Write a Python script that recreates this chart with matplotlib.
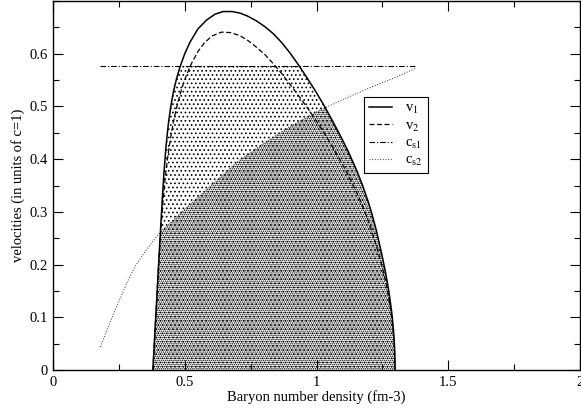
import numpy as np
import matplotlib
matplotlib.use("Agg")
import matplotlib.pyplot as plt
from matplotlib.ticker import MultipleLocator

plt.rcParams['font.family'] = ['Liberation Serif', 'DejaVu Serif']
plt.rcParams['mathtext.fontset'] = 'stix'
plt.rcParams['hatch.linewidth'] = 0.7

# v1 (solid)
v1_x = [0.379, 0.385, 0.391, 0.397, 0.403, 0.409, 0.415, 0.421, 0.429, 0.438,
        0.447, 0.457, 0.469, 0.482, 0.500, 0.520, 0.550, 0.583, 0.615, 0.646,
        0.680, 0.710, 0.740, 0.773, 0.805, 0.836, 0.870, 0.900, 0.930, 0.963,
        0.995, 1.026, 1.058, 1.089, 1.120, 1.153, 1.175, 1.197, 1.212, 1.228,
        1.245, 1.260, 1.270, 1.279, 1.286, 1.292, 1.296, 1.298, 1.2985]
v1_y = [0.000, 0.055, 0.110, 0.165, 0.220, 0.274, 0.326, 0.374, 0.425, 0.468,
        0.500, 0.528, 0.553, 0.575, 0.600, 0.622, 0.647, 0.664, 0.675, 0.680,
        0.680, 0.677, 0.671, 0.662, 0.651, 0.638, 0.620, 0.601, 0.580, 0.555,
        0.530, 0.504, 0.475, 0.446, 0.415, 0.378, 0.350, 0.318, 0.293, 0.263,
        0.226, 0.190, 0.163, 0.134, 0.107, 0.076, 0.045, 0.015, 0.000]

# v2 (dashed)
v2_x = [0.379, 0.385, 0.391, 0.397, 0.403, 0.410, 0.418, 0.427, 0.437, 0.448,
        0.460, 0.474, 0.490, 0.507, 0.527, 0.550, 0.575, 0.605, 0.640, 0.675,
        0.710, 0.740, 0.773, 0.805, 0.836, 0.862, 0.887, 0.913, 0.940, 0.970,
        1.000, 1.026, 1.058, 1.089, 1.120, 1.153, 1.175, 1.195, 1.216, 1.235,
        1.251, 1.263, 1.273, 1.282, 1.289, 1.294, 1.297, 1.298]
v2_y = [0.000, 0.055, 0.110, 0.165, 0.220, 0.272, 0.322, 0.370, 0.410, 0.446,
        0.478, 0.508, 0.536, 0.560, 0.583, 0.604, 0.621, 0.634, 0.641, 0.640,
        0.634, 0.625, 0.612, 0.598, 0.581, 0.566, 0.550, 0.533, 0.515, 0.494,
        0.472, 0.452, 0.426, 0.399, 0.370, 0.336, 0.311, 0.285, 0.254, 0.222,
        0.192, 0.166, 0.140, 0.112, 0.084, 0.056, 0.028, 0.000]

# cs1 (dash-dot)
cs1_x = [0.178, 1.374]
cs1_y = [0.577, 0.577]

# cs2 (dotted)
cs2_x = [0.180, 0.200, 0.220, 0.250, 0.280, 0.310, 0.350, 0.400, 0.500, 0.600,
         0.700, 0.800, 0.900, 1.000, 1.100, 1.200, 1.300, 1.374]
cs2_y = [0.044, 0.070, 0.095, 0.130, 0.165, 0.195, 0.225, 0.258, 0.305, 0.350,
         0.395, 0.430, 0.462, 0.490, 0.513, 0.535, 0.555, 0.572]

fig = plt.figure(figsize=(5.81, 4.12), dpi=100)
ax = fig.add_axes([53 / 581, 1 - 370 / 412, 527 / 581, 369 / 412])

# shaded regions
xg = np.linspace(v1_x[0], v1_x[-1], 800)
v1g = np.interp(xg, v1_x, v1_y)
cs2g = np.interp(xg, cs2_x, cs2_y)
ax.fill_between(xg, 0, np.minimum(v1g, cs1_y[0]), facecolor='none',
                edgecolor='black', hatch='....', linewidth=0)
ax.fill_between(xg, 0, np.minimum(v1g, cs2g), facecolor='none',
                edgecolor='black', hatch='........', linewidth=0)

ax.plot(v1_x, v1_y, color='black', lw=1.1, label=r'v$_1$')
ax.plot(v2_x, v2_y, color='black', lw=0.9, dashes=(4, 2), label=r'v$_2$')
ax.plot(cs1_x, cs1_y, color='black', lw=0.8, dashes=(5, 1.8, 1, 1.8), label=r'c$_{\rm s1}$')
ax.plot(cs2_x, cs2_y, color='#333333', lw=0.8, dashes=(0.8, 1.6), label=r'c$_{\rm s2}$')

ax.set_xlim(0, 2)
ax.set_ylim(0, 0.7)
ax.xaxis.set_minor_locator(MultipleLocator(0.25))
ax.yaxis.set_minor_locator(MultipleLocator(0.05))
ax.set_xticks([0, 0.5, 1, 1.5, 2], ['0', '0.5', '1', '1.5', '2'])
ax.set_yticks([0, 0.1, 0.2, 0.3, 0.4, 0.5, 0.6], ['0', '0.1', '0.2', '0.3', '0.4', '0.5', '0.6'])
ax.tick_params(which='both', direction='in', top=True, right=True, width=0.8, labelsize=10.5)
ax.tick_params(which='major', length=7, pad=4)
ax.tick_params(which='minor', length=4)
for s in ax.spines.values():
    s.set_linewidth(1.0)

ax.set_xlabel('Baryon number density (fm-3)', fontsize=10.5, labelpad=1)
ax.set_ylabel('velocities (in units of c=1)', fontsize=10.5, labelpad=3)

leg = ax.legend(loc='upper left', bbox_to_anchor=(0.59, 0.74), fontsize=10.5,
                fancybox=False, edgecolor='black', framealpha=1,
                handlelength=1.6, labelspacing=0.2, borderpad=0.35,
                handletextpad=0.9, borderaxespad=0)
leg.get_frame().set_linewidth(0.8)

fig.savefig('out.png', dpi=100)
